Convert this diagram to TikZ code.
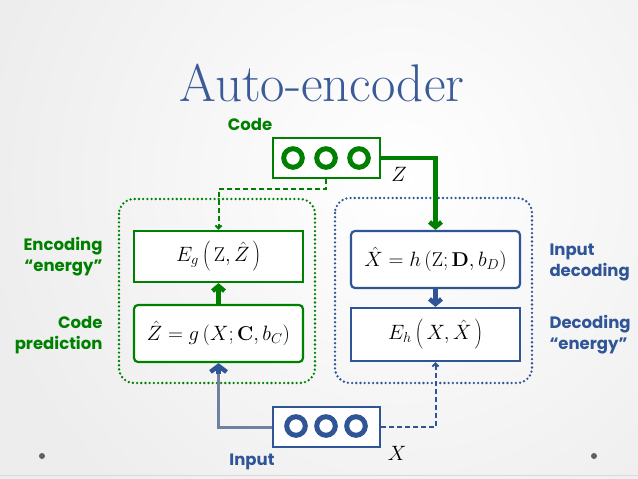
\documentclass[tikz,border=0pt]{standalone}
\usepackage{fontspec}
\setsansfont{Poppins}
\setmainfont{Latin Modern Roman}
\usetikzlibrary{arrows.meta}
\definecolor{ggreen}{RGB}{0,128,0}
\definecolor{bblue}{RGB}{47,85,151}
\definecolor{tblue}{RGB}{59,90,152}
\definecolor{lineblue}{RGB}{112,128,160}
\newcommand{\tallstrut}{\rule[-8pt]{0pt}{26pt}}
\newcommand{\midstrut}{\rule[-6pt]{0pt}{21pt}}
\tikzset{
  lbl/.style={font=\sffamily\bfseries\fontsize{16.5}{21}\selectfont},
  mathbox/.style={line width=2.2pt, fill=white, minimum width=169pt, inner sep=0pt, text=black, font=\fontsize{20}{22}\selectfont},
  circbox/.style={line width=2pt, fill=white, minimum width=107pt, minimum height=40pt, inner sep=0pt},
  container/.style={line width=2.6pt, dash pattern=on 0pt off 4.2pt, line cap=round, rounded corners=15pt},
  thickarrow/.style={line width=4.5pt, -{Straight Barb[length=5pt,width=12pt]}},
  dasharrow/.style={line width=2pt, dash pattern=on 5pt off 3pt, -{Straight Barb[length=3pt,width=6pt]}},
}
\begin{document}
\begin{tikzpicture}[x=1pt,y=-1pt]
\useasboundingbox (0,0) rectangle (638,479);
% background
\fill[gray!14] (0,0) rectangle (638,479);
\begin{scope}
\clip (0,0) rectangle (638,479);
\shade[inner color=white, outer color=gray!14] (400,180) circle (420);
\end{scope}
\draw[gray!30, line width=0.8pt] (0,475) -- (638,475);
\fill[gray!75!black] (42,456) circle (3);
\fill[gray!75!black] (594,456) circle (3);

% title
\node[text=tblue, font=\fontsize{53}{56}\selectfont] (title) at (322,83) {Auto-encoder};

% containers
\draw[container, ggreen] (119,199) rectangle (315,383);
\draw[container, bblue] (335,198) rectangle (532,383);

% code and input boxes
\node[circbox, draw=ggreen] (code) at (326,158) {};
\foreach \cx in {293,326,359} \draw[ggreen, line width=5pt] (\cx,158) circle (9.3);
\node[circbox, draw=bblue] (input) at (326,427) {};
\foreach \cx in {296,326,356} \draw[bblue, line width=5pt] (\cx,426) circle (9.3);

% math boxes
\node[mathbox, draw=ggreen, minimum height=51pt] (eg) at (218.5,256.5) {$E_g\left(\tallstrut\,\mathrm{Z},\hat{Z}\,\right)$};
\node[mathbox, draw=ggreen, minimum height=57pt, rounded corners=4pt] (pred) at (218.5,333.5) {$\hat{Z}=g\left(\midstrut X;\mathbf{C},b_C\right)$};
\node[mathbox, draw=bblue, minimum height=57pt, rounded corners=4pt] (xhat) at (435.5,259.5) {$\hat{X}=h\left(\midstrut\mathrm{Z};\mathbf{D},b_D\right)$};
\node[mathbox, draw=bblue, minimum height=53pt] (eh) at (435.5,334.5) {$E_h\left(\tallstrut\,X,\hat{X}\,\right)$};

% connectors
\draw[thickarrow, ggreen] (code.east) -| (xhat.north);
\draw[dasharrow, ggreen] (code.south) -- ++(0,10) -| (eg.north);
\draw[thickarrow, ggreen] (pred.north) -- (eg.south);
\draw[thickarrow, bblue] (xhat.south) -- (eh.north);
\draw[line width=3pt, lineblue] (input.west) -| ([yshift=-8pt]pred.south);
\draw[line width=4.5pt, bblue, -{Straight Barb[length=6pt,width=16pt]}] ([yshift=-11pt]pred.south) -- (pred.south);
\draw[dasharrow, bblue] (input.east) -| (eh.south);

% labels
\node[font=\fontsize{20}{22}\selectfont] (zl) at (399,174) {$Z$};
\node[font=\fontsize{20}{22}\selectfont] (xl) at (397,453) {$X$};
\node[lbl, text=ggreen] (codel) at (250,124) {Code};
\node[lbl, text=bblue] (inputl) at (252,462) {Input};
\node[lbl, text=ggreen, align=right, anchor=east] (encl) at (106,257) {Encoding\\“energy”};
\node[lbl, text=ggreen, align=right, anchor=east] (predl) at (106,335) {Code\\prediction};
\node[lbl, text=bblue, align=left, anchor=west] (decl) at (546,262) {Input\\decoding};
\node[lbl, text=bblue, align=left, anchor=west] (del) at (546,335) {Decoding\\“energy”};
\end{tikzpicture}
\end{document}
